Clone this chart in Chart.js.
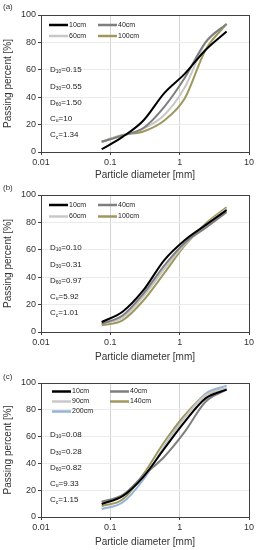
<!DOCTYPE html>
<html>
<head>
<meta charset="utf-8">
<script src="https://cdn.jsdelivr.net/npm/chart.js@4"></script>
<style>
  body { margin: 0; background: #fff; }
  .panel { position: absolute; left: 0; width: 260px; }
  canvas { display: block; }
</style>
</head>
<body>
<div class="panel" style="top:0px"><canvas id="chartA" width="260" height="183"></canvas></div>
<div class="panel" style="top:183px"><canvas id="chartB" width="260" height="182"></canvas></div>
<div class="panel" style="top:365px"><canvas id="chartC" width="260" height="185"></canvas></div>
<script>
// sieve sizes [mm]
const sizes = [0.075, 0.15, 0.3, 0.6, 1.18, 2.36, 4.75];
const xTicks = [0.01, 0.1, 1, 10];

// (a)
const labelsA = ["10cm", "40cm", "60cm", "100cm"];
const a10 = [2, 11, 23, 43, 57, 74.5, 88];
const a40 = [7.5, 12, 17.5, 33, 54, 80, 93.5];
const a60 = [7.5, 12, 17, 27, 47, 80, 93.5];
const a100 = [7.5, 12.5, 15, 23, 39, 74.5, 93.5];
const paramsA = ["0.15", "0.55", "1.50", "10", "1.34"];

// (b)
const labelsB = ["10cm", "40cm", "60cm", "100cm"];
const b10 = [7.3, 14.8, 30.5, 52.5, 67, 78, 89];
const b40 = [6, 12, 28, 48.5, 65, 76, 87.5];
const b60 = [6, 10.5, 26, 46, 64, 78, 90];
const b100 = [4.9, 8.5, 23, 43, 63, 79, 91];
const paramsB = ["0.10", "0.31", "0.97", "5.92", "1.01"];

// (c)
const labelsC = ["10cm", "40cm", "90cm", "140cm", "200cm"];
const c10 = [9.7, 15.6, 30, 51, 71, 88.5, 95];
const c40 = [11.4, 16.4, 31, 45, 63.5, 86, 95];
const c90 = [11.4, 16.4, 30, 52, 74, 91, 96];
const c140 = [8.2, 13, 32, 56, 76, 91, 96];
const c200 = [6, 10.8, 28, 52.5, 74.5, 92, 98];
const paramsC = ["0.08", "0.28", "0.82", "9.33", "1.15"];

const paramNames = [["D", "10"], ["D", "30"], ["D", "60"], ["C", "u"], ["C", "c"]];

const colors4 = ["#000000", "#7f7f7f", "#c8c8c8", "#9e985c"];
const colors5 = ["#000000", "#7f7f7f", "#c8c8c8", "#9e985c", "#95b3d7"];

const FONT = "'Liberation Sans', Arial, sans-serif";

function points(vals) {
  return vals.map((v, i) => ({ x: sizes[i], y: v }));
}

// frame, legend, parameters, panel tag
const decorPlugin = {
  id: 'decor',
  afterDatasetsDraw(chart, args, opts) {
    const ctx = chart.ctx;
    const area = chart.chartArea;
    ctx.save();

    ctx.strokeStyle = '#404040';
    ctx.lineWidth = 1;
    ctx.strokeRect(Math.round(area.left) + 0.5, Math.round(area.top) + 0.5,
      Math.round(area.right - area.left), Math.round(area.bottom - area.top));

    // legend
    ctx.font = '7px ' + FONT;
    ctx.textBaseline = 'middle';
    ctx.textAlign = 'left';
    chart.data.datasets.forEach((ds, i) => {
      const col = i % 2, row = Math.floor(i / 2);
      const x = area.left + opts.legendCols[col];
      const y = area.top + opts.legendRows[row];
      ctx.strokeStyle = ds.borderColor;
      ctx.lineWidth = 2.5;
      ctx.beginPath();
      ctx.moveTo(x, y);
      ctx.lineTo(x + 19, y);
      ctx.stroke();
      ctx.fillStyle = '#222';
      ctx.fillText(ds.label, x + 20, y);
    });

    // parameters
    opts.params.forEach((val, i) => {
      let x = area.left + 9;
      const y = area.top + opts.paramTop + i * 16.3;
      ctx.fillStyle = '#222';
      ctx.font = '8px ' + FONT;
      ctx.fillText(paramNames[i][0], x, y);
      x += ctx.measureText(paramNames[i][0]).width;
      ctx.font = '5px ' + FONT;
      ctx.fillText(paramNames[i][1], x, y + 2);
      x += ctx.measureText(paramNames[i][1]).width;
      ctx.font = '8px ' + FONT;
      ctx.fillText('=' + val, x, y);
    });

    ctx.font = '8px ' + FONT;
    ctx.fillStyle = '#333';
    ctx.fillText(opts.tag, 3, opts.tagY);
    ctx.restore();
  }
};

function makePanel(id, labels, series, colors, params, layout) {
  const datasets = labels.map((lab, i) => ({
    label: lab,
    data: points(series[i]),
    borderColor: colors[i],
    backgroundColor: colors[i],
    borderWidth: 2,
    pointRadius: 0,
    cubicInterpolationMode: 'monotone',
    fill: false
  }));

  new Chart(document.getElementById(id), {
    type: 'line',
    data: { datasets: datasets },
    plugins: [decorPlugin],
    options: {
      responsive: false,
      animation: false,
      events: [],
      layout: { padding: { top: layout.top, right: 11, left: 0, bottom: 0 } },
      plugins: {
        legend: { display: false },
        tooltip: { enabled: false },
        decor: {
          legendCols: layout.legendCols,
          legendRows: layout.legendRows,
          params: params,
          paramTop: layout.paramTop,
          tag: layout.tag,
          tagY: layout.tagY
        }
      },
      scales: {
        x: {
          type: 'logarithmic',
          min: 0.01,
          max: 10,
          afterBuildTicks: s => { s.ticks = xTicks.map(v => ({ value: v })); },
          afterFit: s => { s.height = layout.xHeight; },
          ticks: {
            autoSkip: false,
            maxRotation: 0,
            padding: 2,
            color: '#333',
            font: { family: FONT, size: 9 },
            callback: v => String(v)
          },
          grid: {
            color: ctx => (ctx.tick && (ctx.tick.value === 0.1 || ctx.tick.value === 1)) ? '#d4d4d4' : 'transparent',
            tickColor: '#404040',
            tickLength: 3
          },
          border: { display: false },
          title: {
            display: true,
            text: 'Particle diameter [mm]',
            color: '#333',
            font: { family: FONT, size: 10 },
            padding: { top: 0, bottom: 2 }
          }
        },
        y: {
          min: 0,
          max: 100,
          afterFit: s => { s.width = 41; },
          ticks: {
            stepSize: 4,
            autoSkip: false,
            padding: 2,
            color: '#333',
            font: { family: FONT, size: 9 },
            callback: v => (v % 20 === 0 ? v : null)
          },
          grid: {
            color: '#ebebeb',
            tickColor: ctx => (ctx.tick && ctx.tick.value % 20 === 0) ? '#404040' : 'transparent',
            tickLength: 3
          },
          border: { display: false },
          title: {
            display: true,
            text: 'Passing percent [%]',
            color: '#333',
            font: { family: FONT, size: 10 },
            padding: { top: 2, bottom: 2 }
          }
        }
      }
    }
  });
}

makePanel('chartA', labelsA, [a10, a40, a60, a100], colors4, paramsA,
  { top: 15, xHeight: 31, legendCols: [8, 57], legendRows: [10, 21], paramTop: 55, tag: '(a)', tagY: 7 });
makePanel('chartB', labelsB, [b10, b40, b60, b100], colors4, paramsB,
  { top: 12, xHeight: 33, legendCols: [8, 57], legendRows: [10, 21.5], paramTop: 53, tag: '(b)', tagY: 5 });
makePanel('chartC', labelsC, [c10, c40, c90, c140, c200], colors5, paramsC,
  { top: 18, xHeight: 33, legendCols: [11, 69], legendRows: [8.5, 18.5, 28.5], paramTop: 52, tag: '(c)', tagY: 12 });
</script>
</body>
</html>
